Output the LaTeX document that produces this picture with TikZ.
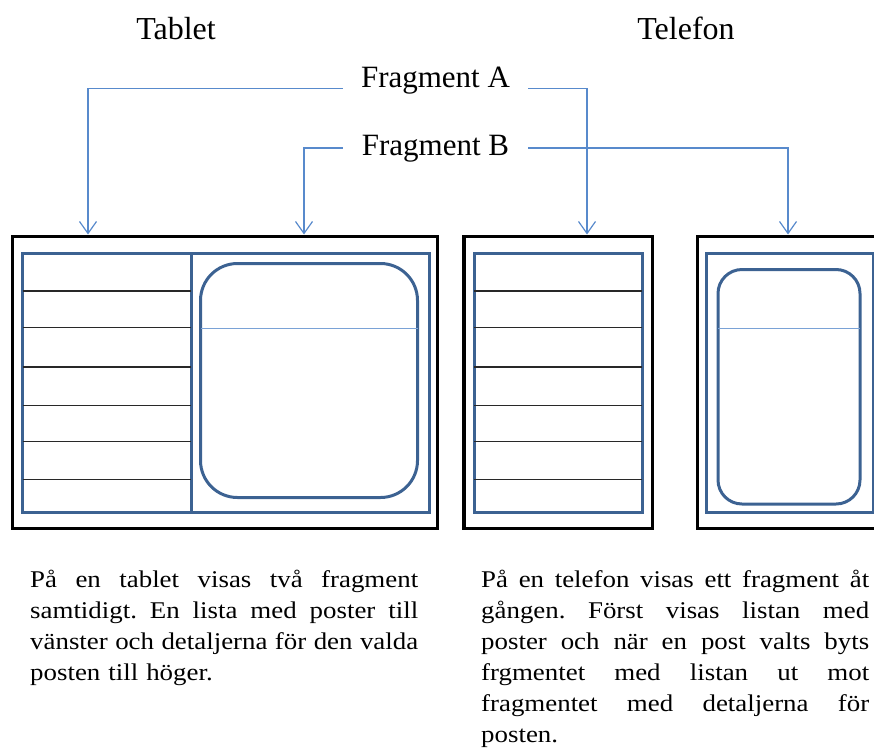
\documentclass[tikz,border=0pt]{standalone}
\usepackage{fontspec}
\setmainfont{Liberation Serif}
\newfontfamily\bodyfont[FakeStretch=1.12]{Liberation Serif}
\usetikzlibrary{arrows.meta}
\definecolor{framec}{RGB}{60,98,146}
\definecolor{connc}{RGB}{88,138,204}
\definecolor{thinc}{RGB}{122,162,214}
\definecolor{listc}{RGB}{40,40,40}
\tikzset{
  outerbox/.style={draw=black, line width=3.4pt},
  frameline/.style={draw=framec, line width=3pt},
  listline/.style={draw=listc, line width=1.2pt},
  thinline/.style={draw=thinc, line width=1pt},
  conn/.style={draw=connc, line width=1.2pt, -{Straight Barb[length=12pt,width=17pt]}},
  title/.style={anchor=base, inner sep=0pt, font=\fontsize{32}{38}\selectfont},
  frag/.style={anchor=base, inner sep=0pt, minimum width=185pt, font=\fontsize{31}{37}\selectfont},
  body/.style={anchor=base west, inner sep=0pt, text width=388pt, align=left, font=\bodyfont\fontsize{24}{31}\selectfont}
}
\newcommand{\jline}[1]{\hbox to 388pt{\spaceskip=0.22em plus 1fil\xspaceskip=\spaceskip #1}}
\begin{document}
\begin{tikzpicture}[x=1pt,y=-1pt]
\useasboundingbox (0,0) rectangle (874,747);
\clip (0,0) rectangle (874,747);

% titles
\node[title] (tablet) at (176,39) {Tablet};
\node[title] (telefon) at (686,39) {Telefon};
\node[frag] (fa) at (435.5,87) {Fragment A};
\node[frag] (fb) at (435.5,155) {Fragment B};

% tablet
\draw[outerbox] (12.5,236.5) rectangle (437.5,528.5);
\draw[frameline] (22.7,253.3) rectangle (429.3,512.7);
\draw[frameline] (191,253.3) -- (191,512.7);
\foreach \y in {291,327.7,367,405.3,441.7,479.7}
  \draw[listline] (22.7,\y) -- (191,\y);
\draw[frameline, rounded corners=37pt] (200.5,263.5) rectangle (417.5,497.5);
\draw[thinline] (200.5,328) -- (417.5,328);

% phone 1
\draw[outerbox] (464,236.5) rectangle (652.7,528.5);
\draw[frameline] (474,253.3) rectangle (642,512.7);
\foreach \y in {291,327.7,367,405.3,441.7,479.7}
  \draw[listline] (474,\y) -- (642,\y);

% phone 2
\draw[outerbox] (697.3,236.5) rectangle (882.7,528.5);
\draw[frameline] (706.7,253.3) rectangle (873.3,512.7);
\draw[frameline, rounded corners=24pt] (718,269.5) rectangle (860,504);
\draw[thinline] (718,328) -- (860,328);

% arrow targets
\coordinate (tA) at (88,234.5);
\coordinate (tB) at (304,234.5);
\coordinate (pA) at (587,234.5);
\coordinate (pB) at (788,234.5);

% connectors
\draw[conn] ([yshift=-1.5pt]fa.base west) -| (tA);
\draw[conn] ([yshift=-1.5pt]fa.base east) -| (pA);
\draw[conn] ([yshift=7pt]fb.base west) -| (tB);
\draw[conn] ([yshift=7pt]fb.base east) -| (pB);

% body texts
\node[body] (txtA) at (30,587) {\jline{På en tablet visas två fragment}
\jline{samtidigt. En lista med poster till}
\jline{vänster och detaljerna för den valda}
\hbox{posten till höger.}};
\node[body] (txtB) at (481,587) {\jline{På en telefon visas ett fragment åt}
\jline{gången. Först visas listan med}
\jline{poster och när en post valts byts}
\jline{frgmentet med listan ut mot}
\jline{fragmentet med detaljerna för}
\hbox{posten.}};
\end{tikzpicture}
\end{document}
